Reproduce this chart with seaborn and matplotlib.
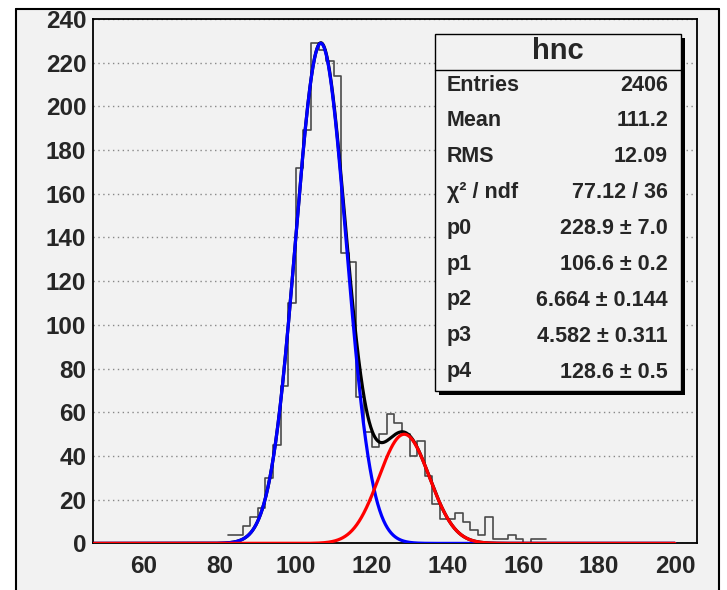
import numpy as np
import pandas as pd
import seaborn as sns
import matplotlib
matplotlib.use("Agg")
import matplotlib.pyplot as plt
from matplotlib.patches import Rectangle
from matplotlib.lines import Line2D
from matplotlib.ticker import MultipleLocator

# ---------------- data ----------------
bin_start = 82
bin_width = 2
counts = [4, 4, 8, 12, 16, 30, 45, 72, 110, 172,
          189, 229, 226, 221, 214, 133, 129, 67, 51, 44,
          50, 59, 55, 50, 40, 47, 31, 18, 11, 11,
          14, 10, 6, 4, 12, 2, 2, 4, 2, 0,
          2, 2]
# fit parameters (from stats box)
p0, p1, p2, p3, p4 = 228.9, 106.6, 6.664, 4.582, 128.6
stat_labels = ["Entries", "Mean", "RMS", "\u03c7\u00b2 / ndf", "p0", "p1", "p2", "p3", "p4"]
stat_values = ["2406", "111.2", "12.09", "77.12 / 36", "228.9 \u00b1 7.0", "106.6 \u00b1 0.2",
               "6.664 \u00b1 0.144", "4.582 \u00b1 0.311", "128.6 \u00b1 0.5"]
hist_title = "hnc"
x_range = (46.6, 205.9)
y_range = (0, 240)
func_range = (46.6, 200)

# ---------------- style ----------------
sns.set_style("white")
BG = "#f2f2f2"
plt.rcParams["font.family"] = ["Liberation Sans", "DejaVu Sans"]
plt.rcParams["font.weight"] = "bold"

W, H = 727, 590
fig = plt.figure(figsize=(W / 100, H / 100), dpi=100, facecolor="white")

def fx(px):
    return px / W

def fy(py):
    return 1 - py / H

# canvas (grey area inside the frame)
fr_l, fr_t, fr_r = 16, 9, 719
fig.patches.append(Rectangle((fx(fr_l), 0), fx(fr_r) - fx(fr_l), fy(fr_t),
                             transform=fig.transFigure, facecolor=BG, edgecolor="none", zorder=-10))

ax_l, ax_r, ax_t, ax_b = 93.3, 697.3, 19.0, 543.4
ax = fig.add_axes([fx(ax_l), fy(ax_b), fx(ax_r) - fx(ax_l), fy(ax_t) - fy(ax_b)])
ax.set_facecolor(BG)

n_bins = len(counts)
centers = bin_start + bin_width * (np.arange(n_bins) + 0.5)
df = pd.DataFrame({"x": centers, "w": np.asarray(counts, dtype=float)})

sns.histplot(data=df, x="x", weights="w", binwidth=bin_width,
             binrange=(bin_start, bin_start + bin_width * n_bins),
             element="step", fill=False, color="#4a4a4a", linewidth=1.2, ax=ax, zorder=3)

xs = np.linspace(func_range[0], func_range[1], 1500)
g1 = p0 * np.exp(-0.5 * ((xs - p1) / p2) ** 2)
g2 = (p0 / p3) * np.exp(-0.5 * ((xs - p4) / p2) ** 2)
fdf = pd.DataFrame({"x": xs, "sum": g1 + g2, "g1": g1, "g2": g2})
sns.lineplot(data=fdf, x="x", y="sum", color="black", linewidth=2.3, ax=ax, zorder=4)
sns.lineplot(data=fdf, x="x", y="g1", color="#0000ff", linewidth=2.3, ax=ax, zorder=5)
sns.lineplot(data=fdf, x="x", y="g2", color="#ff0000", linewidth=2.3, ax=ax, zorder=6)

ax.set_xlim(*x_range)
ax.set_ylim(*y_range)
ax.set_xlabel("")
ax.set_ylabel("")

ax.xaxis.set_major_locator(MultipleLocator(20))
ax.xaxis.set_minor_locator(MultipleLocator(5))
ax.yaxis.set_major_locator(MultipleLocator(20))
ax.yaxis.set_minor_locator(MultipleLocator(4))
ax.tick_params(axis="x", which="major", direction="in", length=10, width=1.2,
               labelsize=17.5, pad=8.5, top=False)
ax.tick_params(axis="x", which="minor", direction="in", length=5.8, width=1.2, top=False)
ax.tick_params(axis="y", which="major", direction="in", length=13.5, width=1.2,
               labelsize=17.5, pad=5, right=False)
ax.tick_params(axis="y", which="minor", direction="in", length=5, width=1.2, right=False)
for lab in ax.get_xticklabels() + ax.get_yticklabels():
    lab.set_fontweight("bold")

ax.grid(False)
ax.yaxis.grid(True, which="major", color="#888888", linestyle=(0, (1, 2.5)), linewidth=1.0)
ax.set_axisbelow(True)
for s in ax.spines.values():
    s.set_color("black")
    s.set_linewidth(1.3)

# ---------------- stats box ----------------
bl, br, bt, bb = 435, 681, 34, 391
sh = 3.5
fig.patches.append(Rectangle((fx(bl + sh), fy(bb + sh)), fx(br) - fx(bl), fy(bt) - fy(bb),
                             transform=fig.transFigure, facecolor="black", edgecolor="none", zorder=10))
fig.patches.append(Rectangle((fx(bl), fy(bb)), fx(br) - fx(bl), fy(bt) - fy(bb),
                             transform=fig.transFigure, facecolor=BG, edgecolor="black",
                             linewidth=1.0, zorder=11))
fig.lines.append(Line2D([fx(bl), fx(br)], [fy(70), fy(70)], transform=fig.transFigure,
                        color="black", linewidth=1.0, zorder=12))
fig.text(fx((bl + br) / 2), fy(51), hist_title, ha="center", va="center",
         fontsize=21, fontweight="bold", zorder=13)
row_y = [85, 120.5, 156.5, 192.5, 228.5, 264.5, 300, 336, 372]
for lab, val, yy in zip(stat_labels, stat_values, row_y):
    fig.text(fx(447), fy(yy), lab, ha="left", va="center", fontsize=15.5,
             fontweight="bold", zorder=13)
    fig.text(fx(668), fy(yy), val, ha="right", va="center", fontsize=15.5,
             fontweight="bold", zorder=13)

# ---------------- canvas frame (clips the top of the first label) ----------------
fig.patches.append(Rectangle((0, fy(fr_t)), 1, 1 - fy(fr_t), transform=fig.transFigure,
                             facecolor="white", edgecolor="none", zorder=19))
fig.lines.append(Line2D([fx(fr_l), fx(fr_l)], [0, fy(fr_t)], transform=fig.transFigure,
                        color="black", linewidth=1.5, zorder=20))
fig.lines.append(Line2D([fx(fr_l), fx(fr_r)], [fy(fr_t), fy(fr_t)], transform=fig.transFigure,
                        color="black", linewidth=1.5, zorder=20))
fig.lines.append(Line2D([fx(fr_r), fx(fr_r)], [0, fy(fr_t)], transform=fig.transFigure,
                        color="black", linewidth=1.5, zorder=20))

fig.savefig("out.png", dpi=100, facecolor="white")
